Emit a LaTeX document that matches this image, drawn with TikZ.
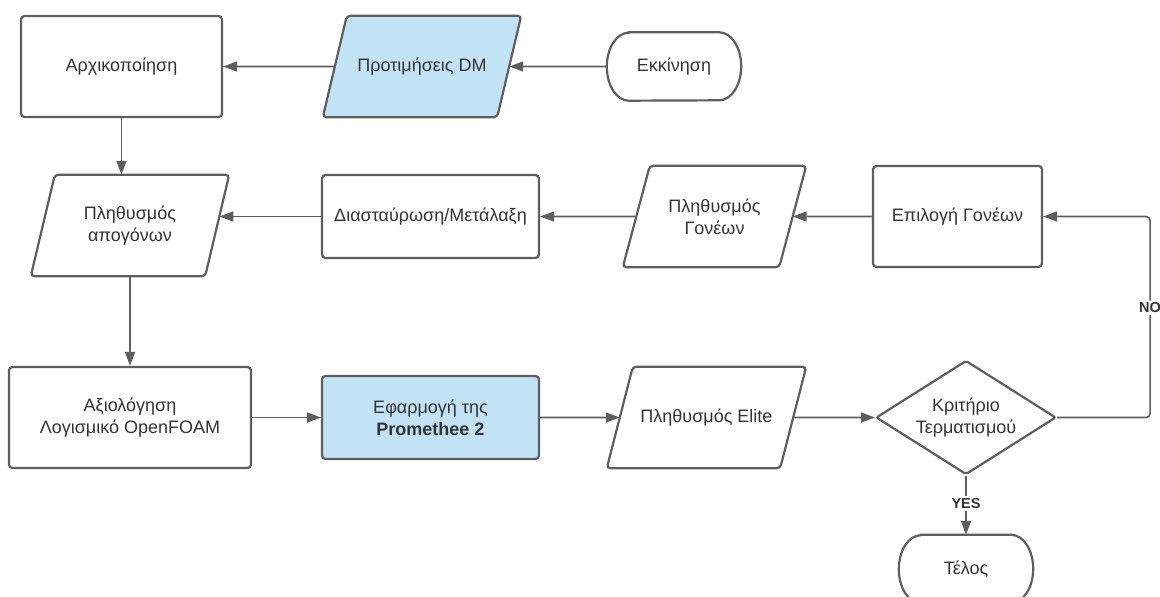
\documentclass[tikz,border=0pt]{standalone}
\usepackage{fontspec}
\setmainfont{Liberation Sans}
\usetikzlibrary{arrows.meta,shapes.geometric,calc,backgrounds}
\definecolor{ln}{RGB}{94,94,94}
\definecolor{tx}{RGB}{51,51,51}
\definecolor{bl}{RGB}{194,227,246}
% parallelogram drawn round a plain node: name, slant, fill
\newcommand{\mypara}[3]{%
  \begin{scope}[on background layer]
    \path[shp, fill=#3] (#1.south west) -- ([xshift=-#2]#1.south east)
      -- (#1.north east) -- ([xshift=#2]#1.north west) -- cycle;
  \end{scope}
  \coordinate (#1-r) at ($([xshift=-#2]#1.south east)!0.5!(#1.north east)$);
  \coordinate (#1-l) at ($(#1.south west)!0.5!([xshift=#2]#1.north west)$);
}
\begin{document}
\begin{tikzpicture}[x=1pt,y=1pt,
  every node/.style={font=\fontsize{18}{22}\selectfont, text=tx, align=center},
  shp/.style={draw=ln, line width=2.2pt, rounded corners=3.5pt},
  box/.style={shp, fill=white, inner sep=0pt},
  pnode/.style={inner sep=0pt, minimum height=101pt},
  term/.style={inner sep=0pt, minimum width=134pt, minimum height=68pt},
  termline/.style={draw=ln, line width=2.2pt},
  dec/.style={diamond, aspect=1.58, draw=ln, line width=2.2pt, rounded corners=2pt,
    fill=white, inner sep=0pt, minimum width=180pt, minimum height=114pt},
  arr/.style={draw=ln, line width=1.6pt, -{Triangle[length=14pt,width=10pt]}},
  lab/.style={font=\bfseries\fontsize{14.5}{16}\selectfont, fill=white, inner sep=2pt}
]
\useasboundingbox (0,0) rectangle (1160,-597);

% row 1
\node[box, minimum width=201pt, minimum height=101pt] (init) at (121.5,-66.5) {Αρχικοποίηση};
\node[pnode, minimum width=198pt] (pref) at (422,-66.5) {Προτιμήσεις DM};
\mypara{pref}{24pt}{bl}
\node[term] (ts) at (674,-66.5) {Εκκίνηση};
\draw[termline] ([xshift=22pt]ts.north west) -- ([xshift=-22pt]ts.north east)
  arc[start angle=90,end angle=-90,x radius=22pt,y radius=34pt]
  -- ([xshift=22pt]ts.south west)
  arc[start angle=270,end angle=90,x radius=22pt,y radius=34pt] -- cycle;

% row 2
\node[pnode, minimum width=198pt] (offs) at (130,-225.5) {Πληθυσμός\\απογόνων};
\mypara{offs}{24pt}{white}
\coordinate (offs-rr) at ($([xshift=-24pt]offs.south east)!0.589!(offs.north east)$);
\node[box, minimum width=217pt, minimum height=83pt] (cross) at (430.5,-216.5) {Διασταύρωση/Μετάλαξη};
\node[pnode, minimum width=183pt] (par) at (714.5,-216.5) {Πληθυσμός\\Γονέων};
\mypara{par}{27pt}{white}
\node[box, minimum width=169pt, minimum height=101pt] (sel) at (957.5,-216.5) {Επιλογή Γονέων};

% row 3
\node[box, minimum width=242pt, minimum height=101pt] (eval) at (130,-417.5) {Αξιολόγηση\\Λογισμικό OpenFOAM};
\node[box, fill=bl, minimum width=217pt, minimum height=83pt] (prom) at (430.5,-417.5) {Εφαρμογή της\\\textbf{Promethee 2}};
\node[pnode, minimum width=199pt] (elite) at (706.5,-417.5) {Πληθυσμός Elite};
\mypara{elite}{26pt}{white}
\node[dec] (crit) at (966,-417.5) {Κριτήριο\\Τερματισμού};
\node[term] (te) at (966,-569) {Τέλος};
\draw[termline] ([xshift=22pt]te.north west) -- ([xshift=-22pt]te.north east)
  arc[start angle=90,end angle=-90,x radius=22pt,y radius=34pt]
  -- ([xshift=22pt]te.south west)
  arc[start angle=270,end angle=90,x radius=22pt,y radius=34pt] -- cycle;

% connectors
\draw[arr] (ts.west) -- (pref-r);
\draw[arr] (pref-l) -- (init.east);
\draw[arr] (init.south) -- (init.south |- offs.north);
\draw[arr] (offs.south) -- (eval.north);
\draw[arr] (cross.west) -- (offs-rr |- cross.west);
\draw[arr] (par-l) -- (cross.east);
\draw[arr] (sel.west) -- (par-r);
\draw[arr] (eval.east) -- (prom.west);
\draw[arr] (prom.east) -- (elite-l);
\draw[arr] (elite-r) -- (crit.west);
\draw[arr, rounded corners=4pt] (crit.east) -- ++(93,0) |- node[lab, pos=0.273] {NO} (sel.east);
\draw[arr] (crit.south) -- node[lab, pos=0.47] {YES} (te.north);
\end{tikzpicture}
\end{document}
